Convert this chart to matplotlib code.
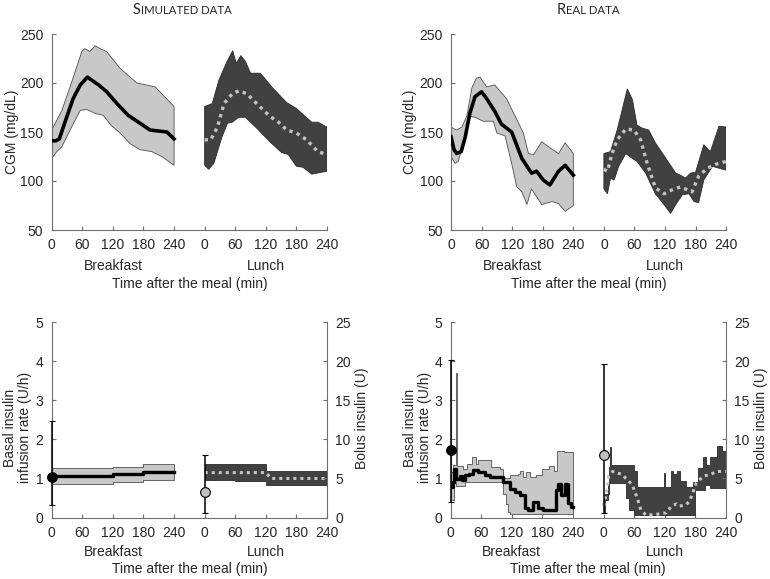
import numpy as np
import matplotlib.pyplot as plt
from matplotlib.offsetbox import TextArea, HPacker, AnnotationBbox

plt.rcParams['font.family'] = ['Liberation Sans', 'DejaVu Sans']
plt.rcParams['font.size'] = 10

LUNCH_OFFSET = 300  # lunch window is drawn 300 min to the right of breakfast

# ---------------- CGM, simulated ----------------
sim_b_t = [0, 8, 15, 26, 42, 56, 70, 92, 108, 128, 150, 173, 193, 226, 240]
sim_b_mean = [141, 141, 143, 160, 184, 198, 206, 198, 191, 179, 167, 159, 152, 150, 143]
sim_b_up_t = [0, 10, 20, 36, 59, 64, 69, 75, 85, 95, 108, 134, 167, 186, 203, 240]
sim_b_up = [152, 162, 172, 196, 232, 235, 234, 232, 238, 235, 232, 215, 200, 198, 196, 176]
sim_b_lo_t = [0, 10, 20, 36, 56, 69, 85, 101, 118, 134, 154, 173, 196, 216, 240]
sim_b_lo = [123, 130, 135, 152, 172, 173, 169, 167, 156, 149, 138, 132, 130, 125, 116]

sim_l_t = [0, 12, 25, 38, 54, 67, 83, 102, 128, 145, 161, 180, 200, 222, 240]
sim_l_mean = [142, 142, 155, 179, 189, 192, 189, 179, 166, 160, 152, 149, 142, 130, 127]
sim_l_up_t = [0, 15, 28, 44, 55, 62, 71, 80, 90, 109, 135, 161, 180, 210, 222, 240]
sim_l_up = [176, 179, 203, 222, 233, 220, 228, 222, 210, 210, 194, 180, 174, 160, 160, 155]
sim_l_lo_t = [0, 8, 18, 34, 45, 54, 67, 80, 102, 128, 151, 164, 180, 193, 210, 240]
sim_l_lo = [116, 112, 118, 145, 159, 160, 165, 165, 154, 140, 129, 127, 115, 114, 107, 110]

# ---------------- CGM, real ----------------
real_b_t = [0, 6, 11, 20, 28, 37, 47, 60, 70, 86, 99, 119, 139, 158, 168, 181, 194, 211, 224, 240]
real_b_mean = [145, 132, 128, 130, 145, 169, 186, 191, 184, 171, 158, 150, 123, 108, 110, 101, 96, 110, 116, 106]
real_b_up_t = [0, 11, 21, 31, 41, 50, 57, 70, 86, 109, 126, 142, 152, 162, 178, 194, 211, 224, 240]
real_b_up = [155, 152, 155, 166, 195, 205, 206, 196, 198, 184, 166, 149, 128, 127, 140, 134, 128, 139, 128]
real_b_lo_t = [0, 8, 14, 24, 37, 47, 63, 83, 90, 106, 119, 129, 139, 149, 158, 178, 198, 211, 224, 240]
real_b_lo = [125, 118, 120, 137, 166, 165, 161, 161, 149, 146, 118, 94, 89, 76, 92, 76, 79, 77, 69, 75]

real_l_t = [0, 7, 16, 26, 43, 59, 72, 85, 101, 118, 134, 150, 164, 173, 186, 203, 219, 240]
real_l_mean = [112, 110, 128, 142, 153, 152, 142, 118, 93, 87, 91, 94, 91, 89, 105, 113, 117, 120]
real_l_up_t = [0, 13, 26, 36, 46, 56, 65, 75, 88, 101, 141, 150, 160, 170, 180, 196, 209, 226, 240]
real_l_up = [128, 130, 152, 173, 194, 183, 157, 154, 152, 139, 108, 106, 103, 108, 109, 137, 130, 156, 155]
real_l_lo_t = [0, 7, 13, 20, 29, 43, 56, 65, 82, 101, 118, 131, 141, 154, 167, 177, 186, 196, 213, 240]
real_l_lo = [92, 87, 103, 101, 115, 128, 123, 120, 108, 87, 76, 67, 76, 86, 87, 79, 78, 101, 115, 111]

# ---------------- basal insulin (U/h), step values held until next time ----------------
sim_bas_b_t = [0, 120, 180, 240]
sim_bas_b_mean = [1.06, 1.12, 1.16, 1.16]
sim_bas_b_up = [1.28, 1.30, 1.36, 1.36]
sim_bas_b_lo = [0.85, 0.92, 0.95, 0.95]

sim_bas_l_t = [0, 60, 120, 240]
sim_bas_l_up = [1.36, 1.36, 1.19, 1.19]
sim_bas_l_lo = [0.95, 0.94, 0.83, 0.83]
sim_bas_l_mean_t = [0, 120, 130, 240]
sim_bas_l_mean = [1.15, 1.15, 1.0, 1.0]

real_bas_b_t = [0, 4, 7, 10, 18, 22, 28, 35, 44, 54, 67, 77, 103, 116, 126, 136, 145, 152,
                162, 172, 181, 206, 211, 217, 224, 230, 237, 240]
real_bas_b_mean = [0.78, 0.91, 1.25, 0.99, 1.05, 0.97, 1.08, 1.12, 1.22, 1.16, 1.08, 1.04, 0.91,
                   0.74, 0.66, 0.57, 0.24, 0.19, 0.40, 0.24, 0.18, 0.70, 0.87, 0.57, 0.87, 0.36,
                   0.28, 0.28]
real_bas_b_up_t = [0, 5, 11, 13, 25, 32, 41, 50, 54, 70, 80, 97, 103, 116, 132, 135, 142, 148,
                   155, 168, 180, 193, 202, 209, 222, 240]
real_bas_b_up = [1.16, 1.35, 3.7, 1.31, 1.25, 1.36, 1.56, 1.36, 1.46, 1.46, 1.29, 1.25, 1.0,
                 1.1, 1.12, 1.2, 1.04, 1.16, 1.04, 1.1, 1.25, 1.33, 1.2, 1.71, 1.68, 1.68]
real_bas_b_lo_t = [0, 6, 10, 28, 103, 108, 113, 116, 240]
real_bas_b_lo = [0.45, 0.9, 0.8, 0.91, 0.6, 0.35, 0.15, 0.1, 0.1]

real_bas_l_t = [0, 5, 10, 18, 27, 37, 43, 56, 66, 73, 83, 103, 123, 133, 143, 149, 162, 169,
                176, 182, 196, 209, 222, 240]
real_bas_l_mean = [0.29, 0.59, 1.06, 1.18, 1.14, 1.10, 1.01, 0.84, 0.50, 0.20, 0.06, 0.08, 0.12,
                   0.29, 0.35, 0.29, 0.33, 0.42, 0.67, 0.89, 1.06, 1.10, 1.18, 1.18]
real_bas_l_up_t = [0, 4, 10, 12, 14, 60, 66, 75, 118, 120, 132, 136, 145, 150, 162, 176, 185,
                   196, 200, 209, 222, 232, 240]
real_bas_l_up = [0.6, 0.6, 1.3, 1.8, 1.35, 1.2, 0.78, 0.78, 1.15, 0.78, 1.2, 1.12, 1.2, 0.93,
                 0.78, 0.9, 1.27, 1.55, 1.35, 1.55, 1.82, 1.7, 1.7]
real_bas_l_lo_t = [0, 3, 9, 43, 50, 60, 179, 199, 209, 240]
real_bas_l_lo = [0.12, 0.45, 0.88, 0.5, 0.2, 0.06, 0.71, 0.84, 0.75, 0.75]

# ---------------- bolus (U): mean, low, high ----------------
sim_bolus_b = (5.2, 1.6, 12.4)
sim_bolus_l = (3.3, 0.6, 8.0)
real_bolus_b = (8.7, 2.0, 20.2)
real_bolus_l = (8.0, 0.6, 19.6)

xticks = [0, 60, 120, 180, 240, 300, 360, 420, 480, 540]
xticklabels = ['0', '60', '120', '180', '240', '0', '60', '120', '180', '240']

LIGHT = '#c8c8c8'
DARK = '#414141'
EDGE = '#505050'
AXC = '#6e6e6e'


def stair(t, v):
    x = np.repeat(t, 2)[1:]
    y = np.repeat(v, 2)[:-1]
    return x, y


def band(ax, tu, vu, tl, vl, off, color, step=False):
    if step:
        tu, vu = stair(tu, vu)
        tl, vl = stair(tl, vl)
    xs = np.r_[np.asarray(tu) + off, (np.asarray(tl) + off)[::-1]]
    ys = np.r_[vu, np.asarray(vl)[::-1]]
    ax.fill(xs, ys, facecolor=color, edgecolor=EDGE if color == LIGHT else '#2a2a2a',
            linewidth=0.6, zorder=2)


def style(ax, ylim, yticks, ylabel, ylab_x, ylab_y, top):
    ax.set_xlim(0, 540)
    ax.set_ylim(*ylim)
    ax.set_yticks(yticks)
    ax.set_xticks(xticks)
    ax.set_xticklabels(xticklabels)
    for s in ['top', 'right']:
        ax.spines[s].set_visible(False)
    for s in ['left', 'bottom']:
        ax.spines[s].set_color(AXC)
        ax.spines[s].set_linewidth(0.8)
    ax.tick_params(direction='in', length=3, color=AXC, labelcolor='#262626', pad=6)
    ax.set_ylabel(ylabel, color='#262626', linespacing=1.05, va='center')
    ax.yaxis.set_label_coords(ylab_x, ylab_y)
    fy1, fy2 = (-0.182, -0.277) if top else (-0.175, -0.266)
    ax.text(120, fy1, 'Breakfast', transform=ax.get_xaxis_transform(), ha='center', va='center',
            color='#262626')
    ax.text(420, fy1, 'Lunch', transform=ax.get_xaxis_transform(), ha='center', va='center',
            color='#262626')
    ax.text(270, fy2, 'Time after the meal (min)', transform=ax.get_xaxis_transform(),
            ha='center', va='center', color='#262626')


def bolus(ax2, x, b, face):
    m, lo, hi = b
    ax2.errorbar([x], [m], yerr=[[m - lo], [hi - m]], fmt='o', color='black', ecolor='black',
                 elinewidth=1.1, capsize=2, markersize=7, markerfacecolor=face,
                 markeredgecolor='black', markeredgewidth=0.8, clip_on=False, zorder=5)


def title(fig, x, y, first, rest):
    a = TextArea(first, textprops=dict(fontsize=10.5, family='Lato', color='#262626'))
    b = TextArea(rest, textprops=dict(fontsize=8.2, family='Lato', color='#262626'))
    box = HPacker(children=[a, b], align='baseline', pad=0, sep=0.5)
    ab = AnnotationBbox(box, (x, y), xycoords='figure pixels', frameon=False,
                        box_alignment=(0.5, 0.5))
    fig.add_artist(ab)


fig = plt.figure(figsize=(7.7, 5.79), dpi=100)
W, H = 770, 579

ax_ts = fig.add_axes([51.7 / W, (H - 230) / H, 275.3 / W, 196 / H])
ax_tr = fig.add_axes([451 / W, (H - 230) / H, 275.2 / W, 196 / H])
ax_bs = fig.add_axes([51.7 / W, (H - 517.5) / H, 275.3 / W, 195.3 / H])
ax_br = fig.add_axes([450.7 / W, (H - 517.5) / H, 275.2 / W, 195.3 / H])

# CGM simulated
band(ax_ts, sim_b_up_t, sim_b_up, sim_b_lo_t, sim_b_lo, 0, LIGHT)
ax_ts.plot(sim_b_t, sim_b_mean, color='black', lw=2.6, zorder=3)
band(ax_ts, sim_l_up_t, sim_l_up, sim_l_lo_t, sim_l_lo, LUNCH_OFFSET, DARK)
ax_ts.plot(np.array(sim_l_t) + LUNCH_OFFSET, sim_l_mean, color='#c4c4c4', lw=2.4,
           ls=(0, (1, 1.3)), zorder=3)
style(ax_ts, (50, 250), [50, 100, 150, 200, 250], 'CGM (mg/dL)', -0.145, 0.5, True)

# CGM real
band(ax_tr, real_b_up_t, real_b_up, real_b_lo_t, real_b_lo, 0, LIGHT)
ax_tr.plot(real_b_t, real_b_mean, color='black', lw=2.6, zorder=3)
band(ax_tr, real_l_up_t, real_l_up, real_l_lo_t, real_l_lo, LUNCH_OFFSET, DARK)
ax_tr.plot(np.array(real_l_t) + LUNCH_OFFSET, real_l_mean, color='#c4c4c4', lw=2.4,
           ls=(0, (1, 1.3)), zorder=3)
style(ax_tr, (50, 250), [50, 100, 150, 200, 250], 'CGM (mg/dL)', -0.149, 0.5, True)

# insulin simulated
band(ax_bs, sim_bas_b_t, sim_bas_b_up, sim_bas_b_t, sim_bas_b_lo, 0, LIGHT, step=True)
x, y = stair(sim_bas_b_t, sim_bas_b_mean)
ax_bs.plot(x, y, color='black', lw=2.4, zorder=3)
band(ax_bs, sim_bas_l_t, sim_bas_l_up, sim_bas_l_t, sim_bas_l_lo, LUNCH_OFFSET, DARK, step=True)
ax_bs.plot(np.array(sim_bas_l_mean_t) + LUNCH_OFFSET, sim_bas_l_mean, color='#c4c4c4', lw=2.2,
           ls=(0, (1, 1.3)), zorder=3)
style(ax_bs, (0, 5), [0, 1, 2, 3, 4, 5], 'Basal insulin\ninfusion rate (U/h)', -0.124, 0.46, False)

# insulin real
band(ax_br, real_bas_b_up_t, real_bas_b_up, real_bas_b_lo_t, real_bas_b_lo, 0, LIGHT, step=True)
x, y = stair(real_bas_b_t, real_bas_b_mean)
ax_br.plot(x, y, color='black', lw=2.4, zorder=3)
band(ax_br, real_bas_l_up_t, real_bas_l_up, real_bas_l_lo_t, real_bas_l_lo, LUNCH_OFFSET, DARK,
     step=True)
ax_br.plot(np.array(real_bas_l_t) + LUNCH_OFFSET, real_bas_l_mean, color='#c4c4c4', lw=2.2,
           ls=(0, (1, 1.3)), zorder=3)
style(ax_br, (0, 5), [0, 1, 2, 3, 4, 5], 'Basal insulin\ninfusion rate (U/h)', -0.121, 0.46, False)

for ax, bb, bl in [(ax_bs, sim_bolus_b, sim_bolus_l), (ax_br, real_bolus_b, real_bolus_l)]:
    ax2 = ax.twinx()
    ax2.set_ylim(0, 25)
    ax2.set_yticks([0, 5, 10, 15, 20, 25])
    for s in ['top', 'left', 'bottom']:
        ax2.spines[s].set_visible(False)
    ax2.spines['right'].set_color(AXC)
    ax2.spines['right'].set_linewidth(0.8)
    ax2.tick_params(direction='in', length=3, color=AXC, labelcolor='#262626', pad=6)
    ax2.set_ylabel('Bolus insulin (U)', color='#262626', va='center')
    ax2.yaxis.set_label_coords(1.128, 0.51)
    bolus(ax2, 0, bb, 'black')
    bolus(ax2, LUNCH_OFFSET, bl, '#c0c0c0')

title(fig, 182, H - 10, 'S', 'IMULATED DATA')
title(fig, 588, H - 10, 'R', 'EAL DATA')

fig.savefig('out.png', dpi=100)
